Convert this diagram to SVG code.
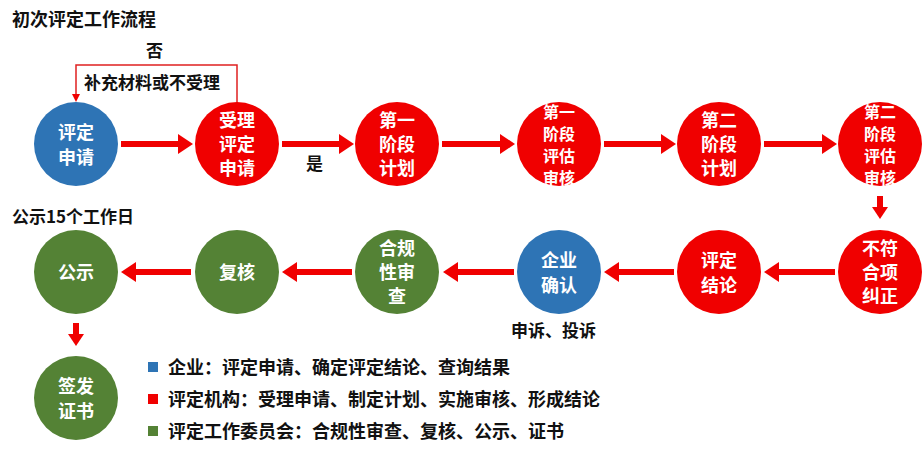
<svg xmlns="http://www.w3.org/2000/svg" width="924" height="454" viewBox="0 0 924 454">
<style>
text{font-family:"Noto Sans CJK SC","Liberation Sans",sans-serif;font-weight:bold}
.w{fill:#fff;font-size:18px;text-anchor:middle}
.w4{fill:#fff;font-size:16px;text-anchor:middle}
.k{fill:#111;font-size:17px}
.l{fill:#111;font-size:18px}
.b{fill:#2E74B5}.r{fill:#F00000}.g{fill:#548235}
.sh{stroke:#F00000;stroke-width:6;fill:none}
.ah{fill:#F00000}
</style>
<rect width="924" height="454" fill="#fff"/>
<text class="k" x="12" y="26" style="font-size:18px">初次评定工作流程</text>
<g id="connectors">
<polyline points="237,103 237,65 76,65 76,96" fill="none" stroke="#E02020" stroke-width="1.5"/>
<polygon points="72,94 80,94 76,102" class="ah"/>
<g id="top-arrows">
<line x1="121" y1="144" x2="180" y2="144" class="sh"/><polygon points="178,134 193,144 178,154" class="ah"/>
<line x1="282" y1="144" x2="341" y2="144" class="sh"/><polygon points="339,134 354,144 339,154" class="ah"/>
<line x1="442" y1="144" x2="502" y2="144" class="sh"/><polygon points="500,134 515,144 500,154" class="ah"/>
<line x1="604" y1="144" x2="663" y2="144" class="sh"/><polygon points="661,134 676,144 661,154" class="ah"/>
<line x1="764" y1="144" x2="824" y2="144" class="sh"/><polygon points="822,134 837,144 822,154" class="ah"/>
</g>
<line x1="880" y1="196" x2="880" y2="209" class="sh"/><polygon points="872,207 888,207 880,219" class="ah"/>
<line x1="76" y1="323" x2="76" y2="336" class="sh"/><polygon points="68,334 84,334 76,346" class="ah"/>
<g id="bottom-arrows">
<line x1="835" y1="272" x2="777" y2="272" class="sh"/><polygon points="779,262 764,272 779,282" class="ah"/>
<line x1="674" y1="272" x2="617" y2="272" class="sh"/><polygon points="619,262 604,272 619,282" class="ah"/>
<line x1="514" y1="272" x2="456" y2="272" class="sh"/><polygon points="458,262 443,272 458,282" class="ah"/>
<line x1="352" y1="272" x2="295" y2="272" class="sh"/><polygon points="297,262 282,272 297,282" class="ah"/>
<line x1="191" y1="272" x2="134" y2="272" class="sh"/><polygon points="136,262 121,272 136,282" class="ah"/>
</g>
</g>
<text class="k" x="146" y="57">否</text>
<text class="k" x="84" y="89">补充材料或不受理</text>
<text class="k" x="306" y="170">是</text>
<text class="k" x="12" y="223">公示15个工作日</text>
<text class="k" x="511" y="337">申诉、投诉</text>
<g id="n1"><circle cx="76" cy="144" r="42" class="b"/><text class="w" x="76" y="139">评定</text><text class="w" x="76" y="164">申请</text></g>
<g id="n2"><circle cx="237" cy="144" r="42" class="r"/><text class="w" x="237" y="127">受理</text><text class="w" x="237" y="151">评定</text><text class="w" x="237" y="175">申请</text></g>
<g id="n3"><circle cx="397" cy="144" r="42" class="r"/><text class="w" x="397" y="127">第一</text><text class="w" x="397" y="151">阶段</text><text class="w" x="397" y="175">计划</text></g>
<g id="n4"><circle cx="559" cy="144" r="42" class="r"/><text class="w4" x="559" y="118">第一</text><text class="w4" x="559" y="140">阶段</text><text class="w4" x="559" y="162">评估</text><text class="w4" x="559" y="184">审核</text></g>
<g id="n5"><circle cx="719" cy="144" r="42" class="r"/><text class="w" x="719" y="127">第二</text><text class="w" x="719" y="151">阶段</text><text class="w" x="719" y="175">计划</text></g>
<g id="n6"><circle cx="880" cy="144" r="42" class="r"/><text class="w4" x="880" y="118">第二</text><text class="w4" x="880" y="140">阶段</text><text class="w4" x="880" y="162">评估</text><text class="w4" x="880" y="184">审核</text></g>
<g id="n7"><circle cx="880" cy="272" r="42" class="r"/><text class="w" x="880" y="255">不符</text><text class="w" x="880" y="279">合项</text><text class="w" x="880" y="303">纠正</text></g>
<g id="n8"><circle cx="719" cy="272" r="42" class="r"/><text class="w" x="719" y="267">评定</text><text class="w" x="719" y="292">结论</text></g>
<g id="n9"><circle cx="559" cy="272" r="42" class="b"/><text class="w" x="559" y="267">企业</text><text class="w" x="559" y="292">确认</text></g>
<g id="n10"><circle cx="397" cy="272" r="42" class="g"/><text class="w" x="397" y="255">合规</text><text class="w" x="397" y="279">性审</text><text class="w" x="397" y="303">查</text></g>
<g id="n11"><circle cx="237" cy="272" r="42" class="g"/><text class="w" x="237" y="279">复核</text></g>
<g id="n12"><circle cx="76" cy="272" r="42" class="g"/><text class="w" x="76" y="279">公示</text></g>
<g id="n13"><circle cx="76" cy="398" r="42" class="g"/><text class="w" x="76" y="393">签发</text><text class="w" x="76" y="418">证书</text></g>
<g id="legend">
<rect x="148" y="362" width="10" height="10" class="b"/><text class="l" x="168" y="374">企业：评定申请、确定评定结论、查询结果</text>
<rect x="148" y="394" width="10" height="10" class="r"/><text class="l" x="168" y="406">评定机构：受理申请、制定计划、实施审核、形成结论</text>
<rect x="148" y="426" width="10" height="10" class="g"/><text class="l" x="168" y="438">评定工作委员会：合规性审查、复核、公示、证书</text>
</g>
</svg>
